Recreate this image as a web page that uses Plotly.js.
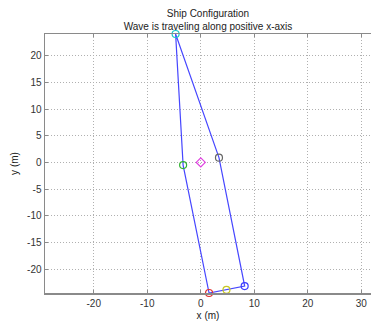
<!DOCTYPE html>
<html>
<head>
<meta charset="utf-8">
<script src="https://cdn.plot.ly/plotly-3.0.1.min.js"></script>
<style>html,body{margin:0;padding:0;overflow:hidden;background:#fff;}</style>
</head>
<body>
<div id="chart" style="width:371px;height:323px;"></div>
<script>
// Hull outline (closed polygon through the ship's points)
const hullX = [-4.7, -3.3, 1.55, 4.8, 8.2, 3.4, -4.7];
const hullY = [24.1, -0.5, -24.5, -23.9, -23.2, 0.9, 24.1];

// Marked points
const pointNames = ["bow", "port", "centre", "starboard", "stern", "mid-stern", "stern-right"];
const pointX = [-4.7, -3.3, 0.0, 3.4, 1.55, 4.8, 8.2];
const pointY = [24.1, -0.5, 0.0, 0.9, -24.5, -23.9, -23.2];
const pointColors = ["#19c8c8", "#33b233", "#e040e0", "#666666", "#e03030", "#c8c820", "#3c3cff"];
const pointSymbols = ["circle-open", "circle-open", "diamond-open", "circle-open", "circle-open", "circle-open", "circle-open"];

const xTickVals = [-20, -10, 0, 10, 20, 30];
const xTickText = ["-20", "-10", "0", "10", "20", "30"];
const yTickVals = [-20, -15, -10, -5, 0, 5, 10, 15, 20];
const yTickText = ["-20", "-15", "-10", "-5", "0", "5", "10", "15", "20"];

const traces = [
  {x: hullX, y: hullY, mode: "lines", type: "scatter",
   line: {color: "rgb(70,70,255)", width: 1.2}, hoverinfo: "skip", showlegend: false}
];
pointX.forEach((px, i) => {
  traces.push({x: [px], y: [pointY[i]], mode: "markers", type: "scatter", name: pointNames[i],
    marker: {symbol: pointSymbols[i], size: 7, color: pointColors[i], line: {width: 1.2, color: pointColors[i]}},
    showlegend: false, cliponaxis: false});
});

const axisCommon = {
  showline: true, linecolor: "#8a8a8a", linewidth: 1.5,
  ticks: "inside", ticklen: 3, tickcolor: "#8a8a8a",
  showgrid: true, gridcolor: "#b0b0b0", griddash: "1px,2px", gridwidth: 1,
  zeroline: false, tickfont: {size: 10, color: "#333", family: "Liberation Sans, Arial, sans-serif"}
};

const layout = {
  width: 371, height: 323,
  margin: {l: 45, r: 0, t: 34, b: 30},
  paper_bgcolor: "#fff", plot_bgcolor: "#fff",
  font: {family: "Liberation Sans, Arial, sans-serif", size: 10, color: "#222"},
  title: {text: "Ship Configuration<br>Wave is traveling along positive x-axis",
          font: {size: 10, color: "#222"}, x: 0.5, xref: "paper",
          y: 1 - 17/323, yref: "container", yanchor: "bottom"},
  xaxis: Object.assign({}, axisCommon, {
    range: [-29.1, 31.8], tickvals: xTickVals, ticktext: xTickText, mirror: "ticks",
    title: {text: "x (m)", font: {size: 10, color: "#222"}, standoff: 4}
  }),
  yaxis: Object.assign({}, axisCommon, {
    range: [-24.5, 24.1], tickvals: yTickVals, ticktext: yTickText, mirror: false,
    title: {text: "y (m)", font: {size: 10, color: "#222"}, standoff: 6}
  })
};

Plotly.newPlot("chart", traces, layout, {displayModeBar: false, staticPlot: true});
</script>
</body>
</html>
